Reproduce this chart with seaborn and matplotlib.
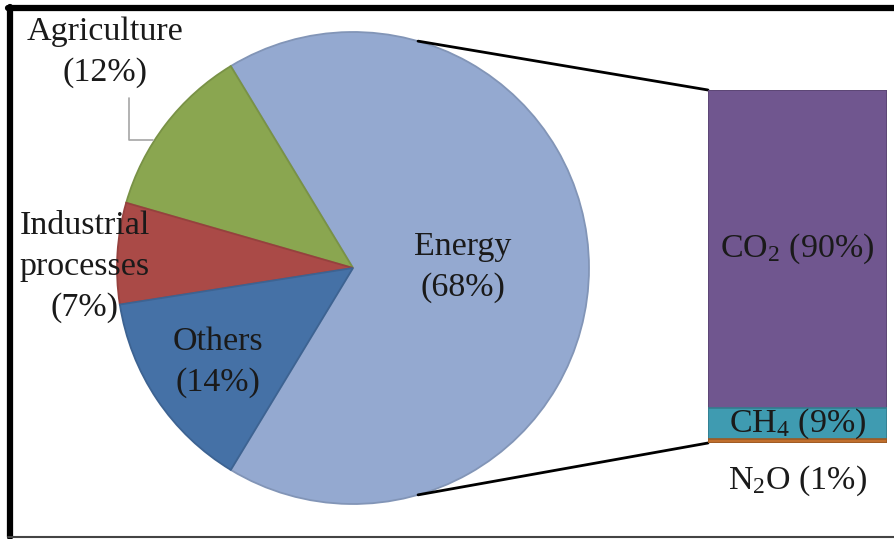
import numpy as np
import matplotlib
matplotlib.use("Agg")
import matplotlib.pyplot as plt
import seaborn as sns
from matplotlib.lines import Line2D
from matplotlib.colors import to_rgb

sns.set_theme(style="white")
plt.rcParams["font.family"] = ["Liberation Serif", "DejaVu Serif"]
plt.rcParams["mathtext.fontset"] = "custom"
plt.rcParams["mathtext.rm"] = "Liberation Serif"
plt.rcParams["mathtext.it"] = "Liberation Serif:italic"

# Emission shares by sector (counter-clockwise from the bottom of Energy)
sectors = ["Energy", "Agriculture", "Industrial\nprocesses", "Others"]
sector_shares = [68, 12, 7, 14]
sector_colors = ["#94a9d0", "#8aa650", "#aa4a47", "#4571a6"]

# Breakdown of energy emissions by gas (bottom to top)
gases = ["N$_2$O", "CH$_4$", "CO$_2$"]
gas_shares = [1, 9, 90]
gas_colors = ["#c06f2d", "#3f9bb1", "#70568f"]

W, H = 894, 539
fig = plt.figure(figsize=(W / 100, H / 100), dpi=100)
ax = fig.add_axes([0, 0, 1, 1])

cx, cy, r = 353, H - 268, 236
FS = 24.5
LS = 1.45
TXT = "#1a1a1a"

def darker(c, f=0.8):
    return tuple(v * f for v in to_rgb(c))

energy_angle = 360 * sector_shares[0] / sum(sector_shares)
wedges, _ = ax.pie(sector_shares, colors=sector_colors, center=(cx, cy), radius=r,
                   startangle=-energy_angle / 2, counterclock=True,
                   wedgeprops=dict(linewidth=1.3), frame=True)
for w, c in zip(wedges, sector_colors):
    w.set_edgecolor(darker(c, 0.88))
ax.set_xlim(0, W)
ax.set_ylim(0, H)
ax.set_aspect("equal")
ax.axis("off")

# Sector labels
ax.text(463, H - 267, f"{sectors[0]}\n({sector_shares[0]}%)", ha="center", va="center",
        fontsize=FS, color=TXT, linespacing=LS)
ax.text(218, H - 362, f"{sectors[3]}\n({sector_shares[3]}%)", ha="center", va="center",
        fontsize=FS, color=TXT, linespacing=LS)
ax.text(85, H - 267, f"{sectors[2]}\n({sector_shares[2]}%)", ha="center",
        va="center", fontsize=FS, color=TXT, linespacing=LS)
ax.text(105, H - 52, f"{sectors[1]}\n({sector_shares[1]}%)", ha="center", va="center",
        fontsize=FS, color=TXT, linespacing=LS)
# Leader line for Agriculture
ax.plot([129, 129, 153], [H - 98, H - 140, H - 140], color="#a6a6a6", lw=1.2)

# Stacked bar for the energy breakdown
bx0, bx1, by_top, by_bot = 708, 887, 90, 443
axb = fig.add_axes([bx0 / W, (H - by_bot) / H, (bx1 - bx0) / W, (by_bot - by_top) / H])
cum = np.cumsum(gas_shares)
for total, c in zip(cum[::-1], gas_colors[::-1]):
    sns.barplot(x=[0], y=[total], color=c, saturation=1, width=1.0, ax=axb,
                edgecolor=darker(c, 0.8), linewidth=1.2)
axb.set_xlim(-0.5, 0.5)
axb.set_ylim(0, 100)
axb.axis("off")

axb.text(0, cum[1] + gas_shares[2] / 2, f"{gases[2]} ({gas_shares[2]}%)",
         ha="center", va="center", fontsize=FS, color=TXT)
axb.text(0, cum[0] + gas_shares[1] / 2, f"{gases[1]} ({gas_shares[1]}%)",
         ha="center", va="center", fontsize=FS, color=TXT)
ax.text((bx0 + bx1) / 2, H - 481, f"{gases[0]} ({gas_shares[0]}%)",
        ha="center", va="center", fontsize=FS, color=TXT)

# Connector lines from the Energy slice to the bar
a = np.deg2rad(74)
ax.plot([cx + r * np.cos(a), bx0], [cy + r * np.sin(a), H - by_top], color="black", lw=2.0)
ax.plot([cx + r * np.cos(a), bx0], [cy - r * np.sin(a), H - by_bot], color="black", lw=2.0)

# Outer frame
fig.add_artist(Line2D([10 / W, 10 / W], [1 - 7 / H, 1 - 537 / H], color="black",
                      lw=4.5, transform=fig.transFigure))
fig.add_artist(Line2D([8 / W, 1], [1 - 8 / H, 1 - 8 / H], color="black",
                      lw=4.5, transform=fig.transFigure))
fig.add_artist(Line2D([8 / W, 1], [1 - 536.5 / H, 1 - 536.5 / H], color="#444444",
                      lw=1.5, transform=fig.transFigure))

fig.savefig("out.png", dpi=100, facecolor="white")
